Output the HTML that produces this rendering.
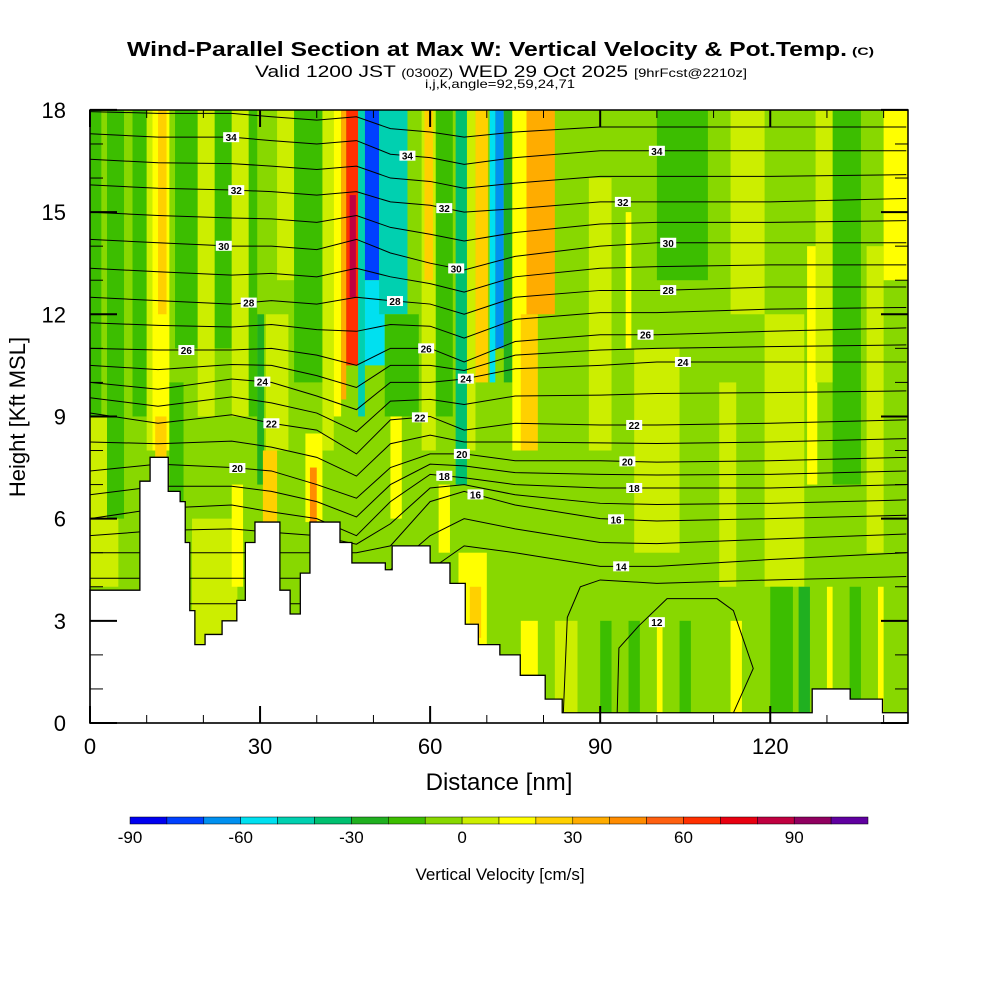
<!DOCTYPE html>
<html><head><meta charset="utf-8"><style>
body{margin:0;background:#fff;}
svg{display:block;font-family:"Liberation Sans",sans-serif;}
</style></head><body>
<svg id="c" width="1000" height="1000" viewBox="0 0 1000 1000" xmlns="http://www.w3.org/2000/svg">
<defs><clipPath id="pc"><rect x="90" y="110" width="818" height="613"/></clipPath></defs>
<text x="127" y="56" textLength="720" lengthAdjust="spacingAndGlyphs" font-size="20" font-weight="bold">Wind-Parallel Section at Max W: Vertical Velocity &amp; Pot.Temp.</text>
<text x="852" y="55" textLength="22" lengthAdjust="spacingAndGlyphs" font-size="11" font-weight="bold">(C)</text>
<text x="255" y="77" textLength="492" lengthAdjust="spacingAndGlyphs" font-size="17">Valid 1200 JST <tspan font-size="12">(0300Z)</tspan> WED 29 Oct 2025 <tspan font-size="12">[9hrFcst@2210z]</tspan></text>
<text x="425" y="88" textLength="150" lengthAdjust="spacingAndGlyphs" font-size="12">i,j,k,angle=92,59,24,71</text>
<g id="field" clip-path="url(#pc)"></g>
<g id="lines" clip-path="url(#pc)"></g>
<g id="terrain"></g>
<g id="labels"></g>
<g id="axes"></g>
<g id="cbar"></g>
<text x="25" y="417" transform="rotate(-90 25 417)" text-anchor="middle" font-size="22">Height [Kft MSL]</text>
<text x="499" y="790" text-anchor="middle" font-size="24">Distance [nm]</text>
<text x="500" y="880" text-anchor="middle" font-size="17">Vertical Velocity [cm/s]</text>
</svg>
<script>
const palette=["#0000f0","#0040ff","#0090f0","#00e0f0","#00d0b0","#00c070","#20b020","#3cbe00","#88d800","#ccee00","#ffff00","#ffd000","#ffac00","#ff8c00","#ff6010","#ff3000","#e80010","#c00040","#900060","#6000a0"];
const cbTicks=[-90,-60,-30,0,30,60,90];
const xTicks=[0,30,60,90,120];
const yTicks=[0,3,6,9,12,15,18];
// stripes of the vertical velocity field: x0,x1 (nm), h0,h1 (kft), value (cm/s)
const stX0=[0,0,0,3,7.5,10,11,12,11.5,15,14,19,18,22,25,25,28,29.5,31,30.5,33,36,38,38.8,41,43,44.3,45.2,45.8,47.3,48.5,48.5,51,52,53,58.5,59,61,64.5,61.5,66.5,68,70.5,71.5,73,74.5,77,76,65,67,88,94.5,100,96,104,113,111,119,126.5,131,128,137,140,90,95,100,104,113,120,125,130,134,139,82,76];
const stX1=[2,1.5,5,6,10,11,14,13.5,13.5,19,16.5,22,26,25,28,27,29.5,30.7,35,33,36,42,41,40,43,44.3,45.2,47.3,46.9,48.5,51,52,56,58,55,61,60.5,64,66.5,63.5,68,70.2,71.5,73,74.5,77,82,79,70,69,92,95.5,109,104,110,119,114,126,128.3,136,131,140,144.3,92,97,101,106,115,124,127,131,136,140,86,79];
const stH0=[4,4,4,6,9,8,8,12,7.5,11,6,9,2,11,9,4,9,7,8,5.9,13,10,5.9,5.9,8,9,9.5,10.5,12.5,9,13,10.5,12,9,6,8,13,9,7,5,8,10,10,11,10,8,12,8,2.2,2.5,8,11,13,5,6,12,4,4,7,7,10,5,13,0,0,0,0,0,0,0,0,0,0,0,0];
const stH1=[18,8,9,18,18,18,18,18,9,18,10,18,6,18,18,7,18,12,12,8,18,18,8.5,7.5,18,18,18,18,15.5,18,18,13,18,12,9,18,18,18,18,7,18,18,18,18,18,18,18,12,5,4,16,15,18,11,12,18,10,12,14,18,18,14,18,3,3,3,3,3,4,4,4,4,4,3,3];
const stV=[-15,20,5,-15,-15,5,12,22,25,-15,-15,5,5,-15,5,15,-15,-25,8,25,5,-15,15,45,5,15,35,65,85,-45,-75,-55,-45,-15,15,8,25,-15,-35,15,5,20,-55,-65,-25,12,30,20,15,25,5,12,-15,5,-5,5,5,5,12,-15,5,5,14,-15,-15,12,-15,12,-15,-25,12,-15,12,5,12];
// terrain profile
const terX=[0,6.2,8.8,10.6,12.9,13.8,15.9,16.8,17.6,18.5,20.3,23.3,25.9,27.4,29.1,31.8,33.5,35.3,37.1,38.8,42.4,44.1,46.2,52.1,53.3,57.3,60,63.5,66.2,68.5,72.3,75.9,80.3,83.3,126.2,127.4,130.6,134.1,139.4,139.8,144.3];
const terH=[3.9,3.9,7.1,7.8,7.8,6.8,6.5,5.3,3.3,2.3,2.6,3.0,3.6,5.3,5.9,5.9,3.9,3.2,4.4,5.9,5.9,5.3,4.7,4.5,5.2,5.2,4.7,4.1,2.9,2.3,2.0,1.4,0.7,0.3,0.3,1.0,1.0,0.7,0.7,0.3,0.3];
// isentropes (theta levels) heights at stations
const stations=[0,12,25,32,40,47,53,60,66,75,90,100,120,144];
const thetaLevels=[14,16,18,20,22,24,26,28,30,32,34];
const t14=[3.5,3.5,3.5,3.5,3.5,3.5,3.8,4.5,5.2,5.0,4.6,4.6,4.8,5.0];
const t16=[5,5,5,5,5,5,5.2,6.5,6.8,6.4,6.0,5.93,6.0,6.1];
const t18=[6.0,6.3,6.4,6.2,6.0,5.5,6.5,7.3,7.2,7.0,6.9,6.9,6.9,7.0];
const t20=[7.4,7.6,7.5,7.4,7.0,6.6,7.5,7.9,7.9,7.7,7.7,7.66,7.7,7.8];
const t22=[9.1,8.8,9.05,8.8,8.6,7.9,8.9,9.0,8.6,8.8,8.75,8.75,8.8,8.9];
const t24=[10.0,9.8,10.1,10.0,9.6,9.2,10.0,10.0,10.1,10.4,10.5,10.6,10.6,10.6];
const t26=[11.0,10.95,10.95,11.0,10.8,10.5,11.0,11.0,10.6,11.2,11.4,11.4,11.5,11.6];
const t28=[12.5,12.4,12.3,12.4,12.3,12.5,12.4,12.3,12.0,12.5,12.7,12.7,12.8,12.8];
const t30=[14.2,14.1,14.0,14.0,13.9,14.2,13.8,13.5,13.3,13.7,14.0,14.1,14.1,14.1];
const t32=[15.8,15.7,15.65,15.6,15.5,15.6,15.3,15.2,15.0,15.1,15.3,15.3,15.3,15.4];
const t34=[17.3,17.2,17.2,17.1,17.0,17.1,16.7,16.6,16.4,16.6,16.8,16.8,16.8,16.8];
const t36=[18.6,18.6,18.6,18.5,18.4,18.5,18.2,18.1,18.0,18.1,18.2,18.2,18.2,18.2];
const t12X=[93,93.3,96.8,101.8,110.6,113.5,117,113.5];
const t12H=[0.3,2.2,2.85,3.65,3.65,3.3,1.6,0.3];
const t13X=[83.5,84.2,86.5,90,100,120,144];
const t13H=[0.3,3.1,4.0,4.2,4.1,4.2,4.3];
const labelTheta=[34,32,30,28,26,24,22,20,34,32,30,28,26,24,22,20,18,16,34,32,30,28,26,24,22,20,18,16,14];
const labelX=[24.9,25.8,23.6,28,17,30.4,32,26,56,62.5,64.6,53.8,59.3,66.3,58.2,65.6,62.5,68,100,94,102,102,98,104.6,96,94.8,96,92.8,93.7];

const NS="http://www.w3.org/2000/svg";
const X=v=>90+v*818/144.3, Y=h=>723-h*34.06;
function mk(tag,attrs,parent){const e=document.createElementNS(NS,tag);for(const k in attrs)e.setAttribute(k,attrs[k]);parent.appendChild(e);return e;}
const colorOf=v=>palette[Math.max(0,Math.min(19,Math.floor((v+90)/10)))];

const field=document.getElementById('field');
const bg=mk('rect',{x:90,y:110,width:818,height:613,fill:colorOf(-5)},field);


for(let i=0;i<stV.length;i++){
  const r=mk('rect',{x:X(stX0[i]),y:Y(stH1[i]),width:X(stX1[i])-X(stX0[i]),height:Y(stH0[i])-Y(stH1[i]),fill:colorOf(stV[i])},field);
  
  
}
const lines=document.getElementById('lines');
const arrs={14:t14,16:t16,18:t18,20:t20,22:t22,24:t24,26:t26,28:t28,30:t30,32:t32,34:t34,36:t36};
function drawLine(xs,hs,name){
  const p=mk('polyline',{points:xs.map((x,i)=>X(x)+','+Y(hs[i])).join(' '),fill:'none',stroke:'#000','stroke-width':1},lines);
  
  
}
for(let t=14;t<=35;t++){
  let hs;
  if(arrs[t])hs=arrs[t];else hs=arrs[t-1].map((v,i)=>(v+arrs[t+1][i])/2);
  drawLine(stations,hs,'isentrope-'+t);
}
drawLine(t12X,t12H,'isentrope-12');
drawLine(t13X,t13H,'isentrope-13');

const ter=document.getElementById('terrain');
let d='M'+X(0)+','+Y(0);
for(let i=0;i<terX.length;i++){
  if(i>0)d+=' L'+X(terX[i])+','+Y(terH[i-1]);
  d+=' L'+X(terX[i])+','+Y(terH[i]);
}
d+=' L'+X(144.3)+','+Y(0)+' Z';
const tp=mk('path',{d:d,fill:'#fff',stroke:'#000','stroke-width':1.3},ter);



const labels=document.getElementById('labels');
function interp(xs,hs,x){for(let i=0;i<xs.length-1;i++){if(x>=xs[i]&&x<=xs[i+1]){const f=(x-xs[i])/(xs[i+1]-xs[i]);return hs[i]+f*(hs[i+1]-hs[i]);}}return hs[hs.length-1];}
for(let i=0;i<labelTheta.length;i++){
  const x=X(labelX[i]),y=Y(interp(stations,arrs[labelTheta[i]],labelX[i]));
  const g=mk('g',{},labels);
  
  
  mk('rect',{x:x-8,y:y-5,width:16,height:10,fill:'#fff'},g);
  const t=mk('text',{x:x,y:y+4,'text-anchor':'middle','font-size':10,'font-weight':'bold'},g);t.textContent=labelTheta[i];
}
{const g=mk('g',{},labels);


const x=X(100),y=Y(2.96);mk('rect',{x:x-8,y:y-5,width:16,height:10,fill:'#fff'},g);
const t=mk('text',{x:x,y:y+4,'text-anchor':'middle','font-size':10,'font-weight':'bold'},g);t.textContent='12';}

const ax=document.getElementById('axes');
mk('rect',{x:90,y:110,width:818,height:613,fill:'none',stroke:'#000','stroke-width':1.5},ax);
for(let h=0;h<=18;h++){
  const major=h%3===0,L=major?27:13,y=Y(h);
  mk('line',{x1:90,y1:y,x2:90+L,y2:y,stroke:'#000','stroke-width':major?2:1},ax);
  mk('line',{x1:908,y1:y,x2:908-L,y2:y,stroke:'#000','stroke-width':major?2:1},ax);
}
yTicks.forEach(h=>{const t=mk('text',{x:66,y:Y(h)+8,'text-anchor':'end','font-size':22},ax);t.textContent=h;

});
for(let n=0;n<=140;n+=10){
  const major=n%30===0,L=major?17:8,x=X(n);
  mk('line',{x1:x,y1:723,x2:x,y2:723-L,stroke:'#000','stroke-width':major?2:1},ax);
  mk('line',{x1:x,y1:110,x2:x,y2:110+L,stroke:'#000','stroke-width':major?2:1},ax);
}
xTicks.forEach(n=>{const t=mk('text',{x:X(n),y:754,'text-anchor':'middle','font-size':22},ax);t.textContent=n;

});

const cb=document.getElementById('cbar');
const cbX=v=>130+(v+90)*3.69;
for(let i=0;i<20;i++){
  const r=mk('rect',{x:cbX(-90+i*10),y:817,width:36.9,height:7,fill:palette[i],stroke:'#000','stroke-width':0.5},cb);
  
  
}
cbTicks.forEach(v=>{const t=mk('text',{x:cbX(v),y:843,'text-anchor':'middle','font-size':17},cb);t.textContent=v;

});
</script>
</body></html>
